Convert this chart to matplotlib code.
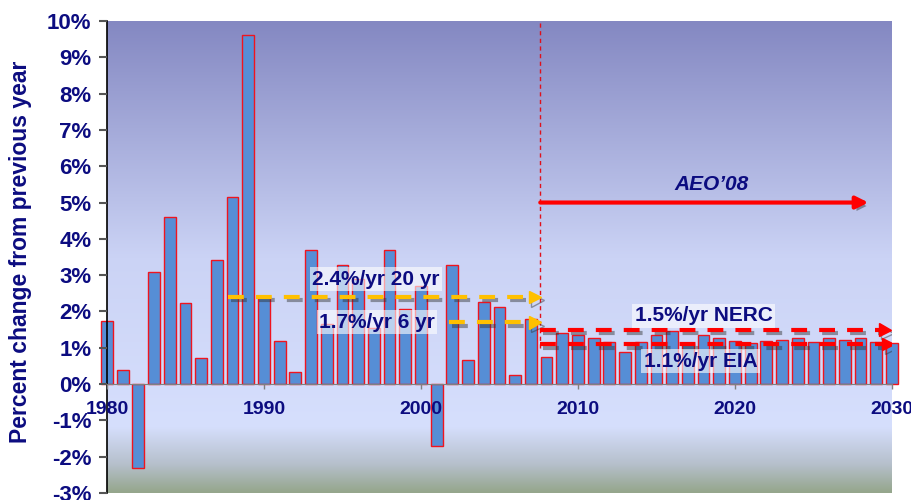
import numpy as np
import matplotlib
matplotlib.use('Agg')
import matplotlib.pyplot as plt
import matplotlib.patheffects as pe
from matplotlib.colors import LinearSegmentedColormap

plt.rcParams['font.family'] = ['Liberation Sans', 'DejaVu Sans']
plt.rcParams['font.weight'] = 'bold'

# annual growth of electricity demand, % change from previous year
years = np.arange(1980, 2031)
growth = [1.75, 0.39, -2.32, 3.09, 4.59, 2.22, 0.72, 3.43, 5.14, 9.62,
          2.42, 1.20, 0.33, 3.68, 1.65, 3.27, 2.90, 1.55, 3.68, 2.08,
          2.70, -1.70, 3.27, 0.67, 2.27, 2.13, 0.25, 1.78, 0.75, 1.42,
          1.34, 1.28, 1.16, 0.87, 1.17, 1.34, 1.45, 1.14, 1.34, 1.28,
          1.20, 1.14, 1.19, 1.22, 1.28, 1.17, 1.28, 1.22, 1.28, 1.15, 1.12]

# trend arrows: start year, end year, rate
hist_start = [1987.7, 2001.8]
hist_end = [2007.6, 2007.6]
hist_rate = [2.4, 1.7]
hist_text = ['2.4%/yr 20 yr', '1.7%/yr 6 yr']

fcst_start = [2007.6, 2007.6]
fcst_end = [2029.9, 2030.1]
fcst_rate = [1.5, 1.1]
fcst_text = ['1.5%/yr NERC', '1.1%/yr EIA']

aeo_start, aeo_end, aeo_level = 2007.6, 2028.5, 5.0

navy = '#0C0C80'
fig = plt.figure(figsize=(9.12, 5.0), dpi=100)
ax = fig.add_axes([0.1173, 0.014, 0.8607, 0.944])
ax.set_axisbelow(False)

# background gradient, green-grey at the bottom to blue-purple at the top
cmap = LinearSegmentedColormap.from_list('bg', [
    (0.0, '#95A68C'), (0.06, '#B6C0CC'), (0.14, '#D6DFFD'),
    (0.5, '#CBD3F5'), (1.0, '#8488C2')])
grad = np.linspace(0, 1, 256).reshape(-1, 1)
ax.imshow(grad, extent=[1980, 2030, -3, 10], origin='lower', aspect='auto',
          cmap=cmap, zorder=0, interpolation='bicubic')

ax.bar(years, growth, width=0.75, color='#568ED6', edgecolor='#F0141E',
       linewidth=1.0, zorder=2, clip_on=False)

shadow = [pe.SimpleLineShadow(offset=(2, -2.5), shadow_color='#303030', alpha=0.45),
          pe.Normal()]

for x0, x1, r in zip(hist_start, hist_end, hist_rate):
    ax.plot([x0, x1 - 0.7], [r, r], color='#FFC000', lw=3,
            dashes=(3.8, 2.9), zorder=4, path_effects=shadow)
    ax.plot([x1 - 0.35], [r], marker='>', ms=9, color='#FFC000',
            zorder=4, path_effects=shadow)

for x0, x1, r in zip(fcst_start, fcst_end, fcst_rate):
    ax.plot([x0, x1 - 0.7], [r, r], color='#FF0000', lw=3,
            dashes=(3.8, 2.9), zorder=4, path_effects=shadow)
    ax.plot([x1 - 0.35], [r], marker='>', ms=9, color='#FF0000',
            zorder=4, path_effects=shadow)

ax.annotate('', xy=(aeo_end, aeo_level), xytext=(aeo_start, aeo_level),
            arrowprops=dict(arrowstyle='-|>', color='#FF0000', lw=3,
                            mutation_scale=18, shrinkA=0, shrinkB=0,
                            path_effects=[pe.SimplePatchShadow(offset=(2, -2.5), shadow_rgbFace='#303030', alpha=0.45),
                                          pe.Normal()]),
            zorder=4)
ax.text(2018.5, 5.5, 'AEO\u201908', color=navy, fontsize=15, style='italic',
        ha='center', va='center', zorder=5)

# split between history and forecast
ax.plot([2007.6, 2007.6], [1.0, 10], color='#E0101A', lw=1,
        dashes=(3, 2.5), zorder=3)

box = dict(boxstyle='square,pad=0.12', facecolor='white', edgecolor='none', alpha=0.6)
ax.text(1997.15, 2.89, hist_text[0], color=navy, fontsize=15, ha='center',
        va='center', bbox=box, zorder=5)
ax.text(1997.2, 1.70, hist_text[1], color=navy, fontsize=15, ha='center',
        va='center', bbox=box, zorder=5)
ax.text(2018.0, 1.88, fcst_text[0], color=navy, fontsize=15, ha='center',
        va='center', bbox=box, zorder=5)
ax.text(2017.8, 0.63, fcst_text[1], color=navy, fontsize=15, ha='center',
        va='center', bbox=box, zorder=5)

ax.set_xlim(1980, 2030)
ax.set_ylim(-3, 10)
ax.set_yticks(range(-3, 11))
ax.set_yticklabels([f'{v}%' for v in range(-3, 11)])
ax.set_xticks([1980, 1990, 2000, 2010, 2020, 2030])

for s in ['top', 'right']:
    ax.spines[s].set_visible(False)
ax.spines['bottom'].set_position(('data', 0))
ax.spines['bottom'].set_color('#808080')
ax.spines['left'].set_color('black')
ax.spines['left'].set_linewidth(1.2)

ax.tick_params(axis='y', direction='out', length=5.8, width=1.5, color='#555555',
               pad=5.5, labelsize=16, labelcolor=navy)
ax.tick_params(axis='x', direction='out', length=3.6, width=1, color='#808080',
               pad=8.5, labelsize=14, labelcolor=navy)

fig.text(21 / 912, 0.496, 'Percent change from previous year', rotation=90,
         ha='center', va='center', fontsize=16.5, color=navy)

fig.savefig('out.png', dpi=100)
